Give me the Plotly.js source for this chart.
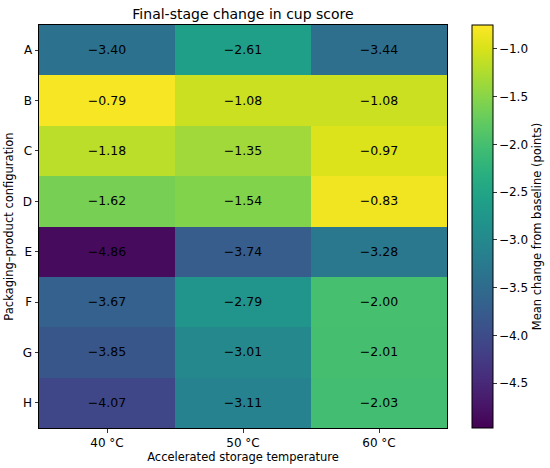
<!DOCTYPE html>
<html>
<head>
<meta charset="utf-8">
<script src="https://cdn.plot.ly/plotly-3.0.1.min.js"></script>
<style>html,body{margin:0;padding:0;background:#fff;}#chart{width:550px;height:468px;}</style>
</head>
<body>
<div id="chart"></div>
<script>
const temperatures = ['40 °C', '50 °C', '60 °C'];
const configurations = ['A', 'B', 'C', 'D', 'E', 'F', 'G', 'H'];
const values = [
  [-3.40, -2.61, -3.44],
  [-0.79, -1.08, -1.08],
  [-1.18, -1.35, -0.97],
  [-1.62, -1.54, -0.83],
  [-4.86, -3.74, -3.28],
  [-3.67, -2.79, -2.00],
  [-3.85, -3.01, -2.01],
  [-4.07, -3.11, -2.03]
];
const cbTickVals = [-1.0, -1.5, -2.0, -2.5, -3.0, -3.5, -4.0, -4.5];

const fmt = (v, d) => (v < 0 ? '\u2212' : '') + Math.abs(v).toFixed(d);
const cellText = values.map(r => r.map(v => fmt(v, 2)));

const font = 'DejaVu Sans, sans-serif';
const trace = {
  type: 'heatmap',
  x: temperatures,
  y: configurations,
  z: values,
  text: cellText,
  texttemplate: '%{text}',
  textfont: {family: font, size: 12.5, color: '#000'},
  colorscale: 'Viridis',
  zmin: -4.97,
  zmax: -0.75,
  xgap: 0, ygap: 0,
  hoverinfo: 'skip',
  colorbar: {
    x: 1.061, xanchor: 'left', xref: 'paper',
    y: 0.5, yanchor: 'middle', len: 1, lenmode: 'fraction',
    thickness: 21, thicknessmode: 'pixels',
    outlinewidth: 1, outlinecolor: '#000',
    xpad: 0, ypad: 0,
    ticks: 'outside', ticklen: 3.5, tickwidth: 0.8, tickcolor: '#000',
    tickvals: cbTickVals,
    ticktext: cbTickVals.map(v => fmt(v, 1)),
    tickfont: {family: font, size: 12, color: '#000'},
    title: {text: 'Mean change from baseline (points)', side: 'right', font: {family: font, size: 11.5, color: '#000'}}
  }
};

const layout = {
  width: 550, height: 468,
  margin: {l: 39, r: 103, t: 24.5, b: 39.5, pad: 0, autoexpand: false},
  paper_bgcolor: '#fff', plot_bgcolor: '#fff',
  title: {text: 'Final-stage change in cup score', font: {family: font, size: 14, color: '#000'},
          x: 0.5, xref: 'paper', xanchor: 'center', y: 1, yref: 'paper', yanchor: 'bottom', pad: {b: 6}},
  xaxis: {
    showline: true, mirror: true, linecolor: '#000', linewidth: 1,
    ticks: 'outside', ticklen: 3.5, tickwidth: 0.8, tickcolor: '#000',
    tickfont: {family: font, size: 12, color: '#000'},
    showgrid: false, zeroline: false,
    title: {text: 'Accelerated storage temperature', font: {family: font, size: 11.5, color: '#000'}, standoff: 4}
  },
  yaxis: {
    autorange: 'reversed',
    showline: true, mirror: true, linecolor: '#000', linewidth: 1,
    ticks: 'outside', ticklen: 3.5, tickwidth: 0.8, tickcolor: '#000',
    tickfont: {family: font, size: 12, color: '#000'},
    showgrid: false, zeroline: false,
    title: {text: 'Packaging\u2013product configuration', font: {family: font, size: 11.5, color: '#000'}, standoff: 6}
  }
};

Plotly.newPlot('chart', [trace], layout, {displayModeBar: false, staticPlot: true});
</script>
</body>
</html>
